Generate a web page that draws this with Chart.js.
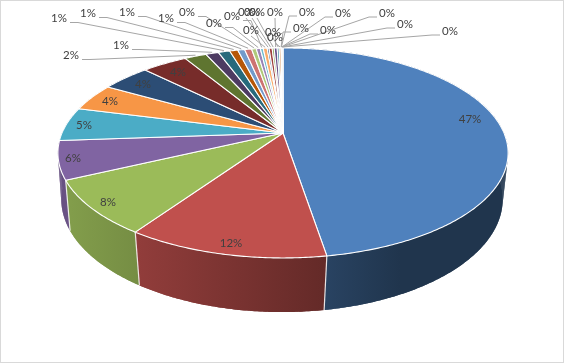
<!DOCTYPE html>
<html>
<head>
<meta charset="utf-8">
<style>html,body{margin:0;padding:0;background:#fff}canvas{display:block}</style>
<script src="https://cdn.jsdelivr.net/npm/chart.js@4"></script>
</head>
<body>
<canvas id="c" width="564" height="363"></canvas>
<script>
// Slice shares in percent, clockwise from 12 o'clock
const categories = Array.from('ABCDEFGHIJKLMNOPQRSTUVWXYZ').concat(['AA','AB','AC','AD','AE']);
const sliceValues = [47.4,12.1,8.4,5.9,5.2,4.25,4.2,3.9,1.9,1.1,1.0,0.7,0.6,0.6,
  0.4,0.35,0.25,0.34,0.16,0.27,0.17,0.26,0.17,0.16,0.024,0.024,0.024,0.024,0.024,0.024,0.026];
const sliceColors = ['#4F81BD','#C0504D','#9BBB59','#8064A2','#4BACC6','#F79646',
  '#2C4D75','#772C2A','#5F7530','#4D3B62','#276A7C','#B65708',
  '#729ACA','#CD7371','#AFC97A','#9983B5','#6FBDD1','#F9AB6B',
  '#3A679C','#9E413E','#7F9A48','#69538A','#3A8CA3','#CD7A32',
  '#94B3D6','#D89C9A','#C5D6A0','#B8A8CC','#9AD0DE','#FAC599','#4F81BD'];
// Label centre, and how its leader leaves it: '' none, L/R stub, B straight from below
const labelPlaces = [[470,119,''],[231,243,''],[108,202,''],[73,158,''],[84,125,''],[110,101,''],[143,84,''],[178,72,''],
  [71,55,'L'],[121,45,'L'],[59,18,'L'],[88,13,'L'],[127,12,'L'],[166,18,'L'],
  [187,12,'L'],[214,23,'L'],[232,16,'L'],[251,30,'B'],[246,12,'B'],[252,12,'B'],[257,12,'B'],
  [275,12,'B'],[273,32,'B'],[275,37,'B'],[301,28,'R'],[307,12,'R'],[328,30,'R'],[343,13,'R'],[387,13,'R'],[405,24,'R'],[450,31,'R']];

// Perspective view of the disc: top face and bottom face
const topFace = {x:283,y:133,a:221,b:101.2,k:0.19};
const botFace = {x:282,y:180,a:217.5,b:109.6,k:0.17};
const shadeStops = [[58,.78],[70,.84],[135,.76],[325,.52],[400,.41],[503,.41]];

function project(f, theta){
  const u = Math.sin(theta), v = -Math.cos(theta), w = 1 - f.k*v;
  return [f.x + f.a*u/w, f.y + f.b*v/w];
}
function shaded(hex, s){
  const n=parseInt(hex.slice(1),16);
  return `rgb(${Math.round((n>>16)*s)},${Math.round(((n>>8)&255)*s)},${Math.round((n&255)*s)})`;
}

const pie3d = {
  id:'pie3d',
  beforeDraw(chart){
    const c=chart.ctx;
    c.save(); c.fillStyle='#fff'; c.fillRect(0,0,chart.width,chart.height);
    c.strokeStyle='#D9D9D9'; c.lineWidth=1; c.strokeRect(.5,.5,chart.width-1,chart.height-1); c.restore();
  },
  beforeDatasetDraw(chart,args){
    const c=chart.ctx, arcs=chart.getDatasetMeta(args.index).data;
    const colors=chart.data.datasets[args.index].backgroundColor;
    const vals=chart.data.datasets[args.index].data;
    const total=vals.reduce((a,b)=>a+b,0);
    const ang=a=>a+Math.PI/2;
    c.save();
    // walls, back to front, each a gradient across the whole disc
    const x0=shadeStops[0][0], x1=shadeStops[shadeStops.length-1][0];
    const order=arcs.map((el,i)=>i).sort((p,q)=>
      (-Math.cos(ang((arcs[p].startAngle+arcs[p].endAngle)/2)))-(-Math.cos(ang((arcs[q].startAngle+arcs[q].endAngle)/2))));
    order.forEach(i=>{
      const el=arcs[i], s=ang(el.startAngle), e=ang(el.endAngle);
      const n=Math.max(2,Math.ceil((e-s)/0.01));
      const g=c.createLinearGradient(x0,0,x1,0);
      shadeStops.forEach(([x,sh])=>g.addColorStop((x-x0)/(x1-x0),shaded(colors[i],sh)));
      c.fillStyle=g;
      c.beginPath();
      for(let j=0;j<=n;j++){ const p=project(topFace,s+(e-s)*j/n); j?c.lineTo(p[0],p[1]):c.moveTo(p[0],p[1]); }
      for(let j=n;j>=0;j--){ const p=project(botFace,s+(e-s)*j/n); c.lineTo(p[0],p[1]); }
      c.closePath();
      c.fill();
      // the ruled strips close the gap at the silhouette where the two rims cross
      for(let j=0;j<n;j++){
        const t0=s+(e-s)*j/n, t1=s+(e-s)*(j+1)/n;
        const a=project(topFace,t0), b=project(topFace,t1), f=project(botFace,t1), d=project(botFace,t0);
        c.beginPath(); c.moveTo(a[0],a[1]); c.lineTo(b[0],b[1]); c.lineTo(f[0],f[1]); c.lineTo(d[0],d[1]); c.closePath();
        c.fill();
      }
    });
    // white edges between walls on the front side
    c.strokeStyle='rgba(255,255,255,.85)'; c.lineWidth=1.2;
    arcs.forEach(el=>{
      const t=ang(el.endAngle), v=-Math.cos(t);
      if(v<0.1) return;
      const a=project(topFace,t), d=project(botFace,t);
      c.beginPath(); c.moveTo(a[0],a[1]); c.lineTo(d[0],d[1]); c.stroke();
    });
    // top face
    c.lineJoin='round';
    arcs.forEach((el,i)=>{
      const s=ang(el.startAngle), e=ang(el.endAngle);
      const n=Math.max(2,Math.ceil((e-s)/0.01));
      c.beginPath(); c.moveTo(topFace.x,topFace.y);
      for(let j=0;j<=n;j++){ const p=project(topFace,s+(e-s)*j/n); c.lineTo(p[0],p[1]); }
      c.closePath();
      c.fillStyle=colors[i]; c.fill();
      c.strokeStyle='#fff'; c.lineWidth=1.1; c.stroke();
    });
    // leaders
    c.strokeStyle='#A6A6A6'; c.lineWidth=1;
    arcs.forEach((el,i)=>{
      const [x,y,m]=labelPlaces[i];
      if(!m) return;
      const r=project(topFace,ang((el.startAngle+el.endAngle)/2));
      c.beginPath();
      if(m==='L'){ c.moveTo(x+11,y+4.5); c.lineTo(x+19,y+4.5); }
      else if(m==='R'){ c.moveTo(x-10,y+4); c.lineTo(x-18,y+4); }
      else { c.moveTo(x,y+6); }
      c.lineTo(r[0],r[1]-1);
      c.stroke();
    });
    // labels
    c.fillStyle='#404040'; c.font='11.5px Lato'; c.textAlign='center'; c.textBaseline='middle';
    vals.forEach((v,i)=>{
      c.fillText(Math.round(v/total*100)+'%',labelPlaces[i][0],labelPlaces[i][1]);
    });
    c.restore();
    return false;
  }
};

new Chart(document.getElementById('c'),{
  type:'pie',
  data:{labels:categories,datasets:[{data:sliceValues,backgroundColor:sliceColors,borderColor:'#fff',borderWidth:1}]},
  options:{responsive:false,animation:false,plugins:{legend:{display:false},tooltip:{enabled:false}}},
  plugins:[pie3d]
});
</script>
</body>
</html>
